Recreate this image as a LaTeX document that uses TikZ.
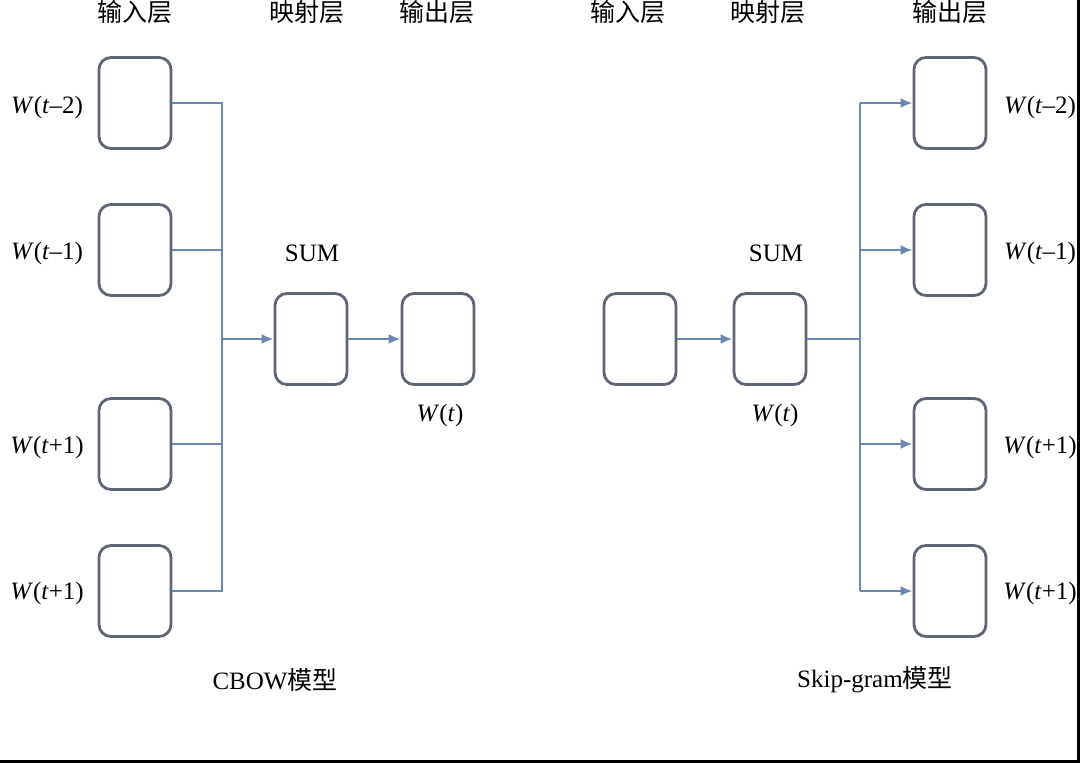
\documentclass[tikz,border=0pt]{standalone}
\usepackage{fontspec}
\setmainfont{Liberation Serif}
\newfontfamily\cjk{Noto Sans CJK SC}
\usetikzlibrary{arrows.meta}
\definecolor{boxcol}{HTML}{5E6575}
\definecolor{linecol}{HTML}{6C87B2}
\newcommand{\wlab}[1]{\textit{W}(\textit{t}#1)}
\tikzset{
  cell/.style={draw=boxcol, line width=2.8pt, rounded corners=12pt,
    minimum width=72pt, minimum height=91pt, inner sep=0pt},
  txt/.style={font=\fontsize{25}{28}\selectfont, inner sep=0pt},
  head/.style={font=\cjk\fontsize{25}{28}\selectfont, inner sep=0pt},
  link/.style={draw=linecol, line width=2.6pt},
  tip/.style={-{Latex[length=12pt,width=10pt]}}
}
\begin{document}
\begin{tikzpicture}[x=1pt,y=-1pt]
      \useasboundingbox (0,0) rectangle (1080,763);
      \fill[white] (0,0) rectangle (1080,763);
      % CBOW
      \draw
        (135,103) node[cell] (a1){}
        (135,250) node[cell] (a2){}
        (135,444) node[cell] (a3){}
        (135,591) node[cell] (a4){}
        (311,339) node[cell] (asum){}
        (438,339) node[cell] (aout){};
      \coordinate (abus1) at (222,103);
      \coordinate (abus2) at (222,250);
      \coordinate (abus3) at (222,444);
      \coordinate (abus4) at (222,591);
      \coordinate (abusm) at (222,339);
      \begin{scope}[link]
        \draw (a1.east) -- (abus1) -- (abus4) -- (a4.east);
        \draw (a2.east) -- (abus2);
        \draw (a3.east) -- (abus3);
        \draw[tip] (abusm) -- (asum.west);
        \draw[tip] (asum.east) -- (aout.west);
      \end{scope}
      \draw
        (135,12) node[head] (ain){输入层}
        (307,12) node[head] (amap){映射层}
        (437,12) node[head] (aoutl){输出层}
        (47,107) node[txt] (la1){\wlab{–2}}
        (47,253) node[txt] (la2){\wlab{–1}}
        (47,447) node[txt] (la3){\wlab{+1}}
        (47,593) node[txt] (la4){\wlab{+1}}
        (312,253) node[txt] (lasum){SUM}
        (440,415) node[txt] (laout){\textit{W}(\textit{t})}
        (275,680) node[txt] (acap){CBOW{\cjk 模型}};
      % Skip-gram
      \draw
        (640,339) node[cell] (bin){}
        (770,339) node[cell] (bsum){}
        (950,103) node[cell] (b1){}
        (950,250) node[cell] (b2){}
        (950,444) node[cell] (b3){}
        (950,591) node[cell] (b4){};
      \coordinate (bbus1) at (860,103);
      \coordinate (bbus2) at (860,250);
      \coordinate (bbus3) at (860,444);
      \coordinate (bbus4) at (860,591);
      \coordinate (bbusm) at (860,339);
      \begin{scope}[link]
        \draw[tip] (bin.east) -- (bsum.west);
        \draw (bsum.east) -- (bbusm);
        \draw (bbus1) -- (bbus4);
        \draw[tip] (bbus1) -- (b1.west);
        \draw[tip] (bbus2) -- (b2.west);
        \draw[tip] (bbus3) -- (b3.west);
        \draw[tip] (bbus4) -- (b4.west);
      \end{scope}
      \draw
        (628,12) node[head] (binl){输入层}
        (768,12) node[head] (bmap){映射层}
        (950,12) node[head] (boutl){输出层}
        (1040,107) node[txt] (lb1){\wlab{–2}}
        (1040,253) node[txt] (lb2){\wlab{–1}}
        (1040,447) node[txt] (lb3){\wlab{+1}}
        (1040,593) node[txt] (lb4){\wlab{+1}}
        (776,253) node[txt] (lbsum){SUM}
        (775,415) node[txt] (lbout){\textit{W}(\textit{t})}
        (875,680) node[txt] (bcap){Skip-gram{\cjk 模型}};
      % frame edges
      \draw[line width=3pt] (0,761.5) -- (1080,761.5);
      \draw[line width=3pt] (1078.5,0) -- (1078.5,763);
    \end{tikzpicture}
\end{document}
